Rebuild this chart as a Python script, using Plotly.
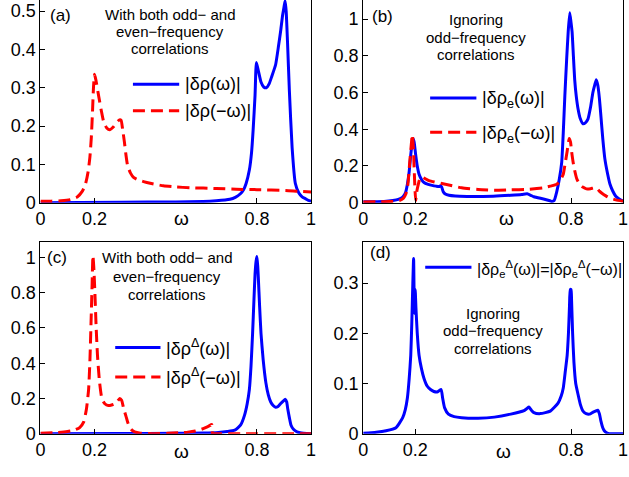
import plotly.graph_objects as go

# ---------------- data ----------------
tick_vals_x = [0, 0.2, 0.8, 1]
tick_text_x = ["0", "0.2", "0.8", "1"]

a_ticks = [0, 0.1, 0.2, 0.3, 0.4, 0.5]
a_ticktext = ["0", "0.1", "0.2", "0.3", "0.4", "0.5"]
b_ticks = [0, 0.2, 0.4, 0.6, 0.8, 1.0]
b_ticktext = ["0", "0.2", "0.4", "0.6", "0.8", "1"]
d_ticks = [0, 0.1, 0.2, 0.3]
d_ticktext = ["0", "0.1", "0.2", "0.3"]

# panel (a)
a_blue_x = [0, 0.3, 0.5, 0.6, 0.65, 0.7, 0.72, 0.74, 0.75, 0.76, 0.772, 0.78, 0.786, 0.793, 0.798, 0.805,
            0.815, 0.825, 0.835, 0.845, 0.855, 0.869, 0.88, 0.888, 0.895, 0.9, 0.904, 0.908, 0.913, 0.92,
            0.93, 0.942, 0.955, 0.967, 0.98, 0.99, 1.0]
a_blue_y = [0, 0.001, 0.002, 0.003, 0.005, 0.009, 0.014, 0.024, 0.033, 0.05, 0.085, 0.13, 0.19, 0.28, 0.366, 0.345,
            0.315, 0.302, 0.30, 0.31, 0.33, 0.36, 0.41, 0.45, 0.49, 0.51, 0.527, 0.5, 0.42, 0.29,
            0.144, 0.05, 0.025, 0.015, 0.01, 0.006, 0.004]
a_red_x = [0, 0.04, 0.076, 0.11, 0.136, 0.155, 0.167, 0.176, 0.183, 0.188, 0.192, 0.196, 0.2, 0.205,
           0.216, 0.225, 0.234, 0.245, 0.256, 0.27, 0.283, 0.292, 0.298, 0.304, 0.31, 0.316, 0.322, 0.333,
           0.344, 0.36, 0.381, 0.41, 0.454, 0.5, 0.552, 0.65, 0.723, 0.8, 0.906, 0.95, 1.0]
a_red_y = [0.004, 0.004, 0.005, 0.008, 0.015, 0.03, 0.05, 0.08, 0.12, 0.17, 0.23, 0.3, 0.335, 0.32,
           0.275, 0.24, 0.21, 0.195, 0.19, 0.198, 0.21, 0.216, 0.215, 0.19, 0.16, 0.125, 0.097, 0.077,
           0.066, 0.06, 0.055, 0.05, 0.044, 0.041, 0.039, 0.037, 0.035, 0.034, 0.032, 0.03, 0.028]

# panel (b)
b_blue_x = [0, 0.08, 0.114, 0.135, 0.152, 0.163, 0.17, 0.177, 0.183, 0.188, 0.192, 0.196, 0.202, 0.208,
            0.215, 0.225, 0.234, 0.25, 0.265, 0.28, 0.292, 0.297, 0.302, 0.308, 0.316, 0.33, 0.354, 0.4,
            0.442, 0.5, 0.568, 0.61, 0.631, 0.645, 0.657, 0.694, 0.715, 0.726, 0.735, 0.745, 0.755, 0.764,
            0.77, 0.776, 0.783, 0.789, 0.795, 0.8, 0.804, 0.809, 0.814, 0.82, 0.827, 0.835, 0.846, 0.855,
            0.865, 0.875, 0.884, 0.891, 0.897, 0.903, 0.909, 0.915, 0.922, 0.93, 0.941, 0.95, 0.96, 0.972,
            0.985, 1.0]
b_blue_y = [0.005, 0.007, 0.012, 0.018, 0.03, 0.055, 0.1, 0.17, 0.26, 0.32, 0.35, 0.33, 0.26, 0.2,
            0.155, 0.125, 0.11, 0.1, 0.094, 0.09, 0.088, 0.092, 0.085, 0.06, 0.047, 0.04, 0.036, 0.034,
            0.034, 0.035, 0.04, 0.044, 0.048, 0.04, 0.032, 0.02, 0.012, 0.007, 0.012, 0.06, 0.13, 0.22,
            0.38, 0.58, 0.78, 0.93, 1.035, 0.98, 0.93, 0.8, 0.67, 0.58, 0.51, 0.46, 0.43, 0.435,
            0.455, 0.52, 0.6, 0.64, 0.67, 0.64, 0.57, 0.47, 0.35, 0.24, 0.155, 0.1, 0.065, 0.035,
            0.02, 0.008]
b_red_x = [0, 0.1, 0.139, 0.155, 0.164, 0.172, 0.179, 0.184, 0.189, 0.193, 0.196, 0.199, 0.202, 0.206,
           0.212, 0.218, 0.225, 0.253, 0.316, 0.379, 0.442, 0.505, 0.568, 0.631, 0.694, 0.72, 0.745, 0.76,
           0.77, 0.778, 0.785, 0.793, 0.798, 0.802, 0.808, 0.814, 0.822, 0.833, 0.845, 0.859, 0.875, 0.891,
           0.9, 0.909, 0.92, 0.934, 0.95, 0.972, 1.0]
b_red_y = [0.004, 0.006, 0.012, 0.025, 0.047, 0.1, 0.22, 0.3, 0.37, 0.3, 0.19, 0.08, 0.012, 0.06,
           0.1, 0.13, 0.14, 0.12, 0.1, 0.081, 0.072, 0.068, 0.07, 0.072, 0.081, 0.09, 0.1, 0.125,
           0.155, 0.22, 0.28, 0.35, 0.33, 0.28, 0.22, 0.175, 0.13, 0.1, 0.085, 0.075, 0.076, 0.081,
           0.078, 0.063, 0.05, 0.037, 0.025, 0.015, 0.008]

# panel (c)
c_blue_x = [0, 0.3, 0.5, 0.6, 0.657, 0.69, 0.718, 0.74, 0.754, 0.764, 0.772, 0.778, 0.784, 0.789, 0.793,
            0.797, 0.8, 0.803, 0.805, 0.81, 0.815, 0.823, 0.833, 0.842, 0.851, 0.86, 0.869, 0.878, 0.887,
            0.897, 0.905, 0.91, 0.914, 0.92, 0.926, 0.935, 0.948, 0.965, 0.984, 1.0]
c_blue_y = [0, 0.001, 0.002, 0.004, 0.007, 0.012, 0.02, 0.05, 0.104, 0.17, 0.25, 0.38, 0.57, 0.76, 0.905,
            0.98, 1.005, 0.95, 0.89, 0.72, 0.57, 0.42, 0.29, 0.22, 0.18, 0.16, 0.15, 0.155, 0.17,
            0.185, 0.195, 0.18, 0.14, 0.09, 0.048, 0.025, 0.011, 0.004, 0.001, 0]
c_red_x = [0, 0.063, 0.1, 0.124, 0.145, 0.16, 0.17, 0.178, 0.183, 0.187, 0.191, 0.194, 0.197, 0.201,
           0.206, 0.211, 0.218, 0.227, 0.238, 0.251, 0.263, 0.275, 0.285, 0.293, 0.3, 0.308, 0.316, 0.324,
           0.335, 0.348, 0.37, 0.415, 0.47, 0.511, 0.545, 0.572, 0.595, 0.608, 0.622, 0.633, 0.636, 0.645,
           0.75, 0.9, 1.0]
c_red_y = [0.002, 0.007, 0.013, 0.02, 0.035, 0.067, 0.14, 0.25, 0.42, 0.63, 0.85, 1.01, 0.95, 0.81,
           0.6, 0.44, 0.3, 0.2, 0.17, 0.16, 0.163, 0.17, 0.185, 0.2, 0.19, 0.14, 0.1, 0.058,
           0.025, 0.01, 0.003, 0.0, 0.002, 0.005, 0.009, 0.015, 0.025, 0.033, 0.043, 0.052, 0.0, 0.0,
           0.0, 0.0, 0.0]

# panel (d)
d_blue_x = [0, 0.05, 0.088, 0.126, 0.152, 0.162, 0.17, 0.177, 0.183, 0.187, 0.191, 0.194, 0.197, 0.2,
            0.203, 0.208, 0.215, 0.224, 0.234, 0.246, 0.259, 0.272, 0.284, 0.293, 0.3, 0.306, 0.313, 0.328,
            0.35, 0.379, 0.442, 0.505, 0.568, 0.619, 0.63, 0.638, 0.647, 0.657, 0.682, 0.72, 0.75, 0.762,
            0.77, 0.778, 0.785, 0.79, 0.794, 0.797, 0.8, 0.802, 0.806, 0.811, 0.818, 0.827, 0.836, 0.846,
            0.858, 0.871, 0.885, 0.894, 0.903, 0.909, 0.915, 0.922, 0.928, 0.937, 0.947, 1.0]
d_blue_y = [0.001, 0.003, 0.006, 0.012, 0.032, 0.048, 0.071, 0.11, 0.156, 0.22, 0.3, 0.349, 0.24, 0.287,
            0.25, 0.2, 0.156, 0.13, 0.11, 0.095, 0.088, 0.084, 0.083, 0.086, 0.088, 0.07, 0.052, 0.039,
            0.034, 0.032, 0.031, 0.033, 0.039, 0.046, 0.05, 0.053, 0.047, 0.042, 0.04, 0.045, 0.061, 0.075,
            0.091, 0.125, 0.156, 0.2, 0.254, 0.287, 0.287, 0.265, 0.2, 0.143, 0.1, 0.078, 0.058, 0.045,
            0.04, 0.039, 0.043, 0.045, 0.047, 0.04, 0.025, 0.012, 0.006, 0.002, 0, 0]

for xs, ys in [(a_blue_x, a_blue_y), (a_red_x, a_red_y), (b_blue_x, b_blue_y), (b_red_x, b_red_y),
               (c_blue_x, c_blue_y), (c_red_x, c_red_y), (d_blue_x, d_blue_y)]:
    assert len(xs) == len(ys), (len(xs), len(ys))

# ---------------- figure ----------------
W, H = 629, 477
BLUE = "#0000FF"
RED = "#FF0000"
FONT = "Liberation Sans, Arial, Helvetica, sans-serif"
DASH = "12px,6px"


def px(x):
    return x / W


def py(y):
    return 1 - y / H


fig = go.Figure()

panels = [
    ("x", "y", [(a_blue_x, a_blue_y, BLUE, "solid"), (a_red_x, a_red_y, RED, DASH)]),
    ("x2", "y2", [(b_blue_x, b_blue_y, BLUE, "solid"), (b_red_x, b_red_y, RED, DASH)]),
    ("x3", "y3", [(c_blue_x, c_blue_y, BLUE, "solid"), (c_red_x, c_red_y, RED, DASH)]),
    ("x4", "y4", [(d_blue_x, d_blue_y, BLUE, "solid")]),
]
for xa, ya, series in panels:
    for xs, ys, col, dash in series:
        fig.add_trace(go.Scatter(x=xs, y=ys, mode="lines", xaxis=xa, yaxis=ya,
                                 line=dict(color=col, width=3, dash=dash, shape="spline", smoothing=0.5),
                                 showlegend=False, hoverinfo="skip"))

colL = [px(36), px(311)]
colR = [px(364), px(628)]
rowT = [py(207), 1.0]
rowB = [py(443), py(247)]

axis_common = dict(showline=True, linecolor="black", linewidth=1, ticks="inside", ticklen=5,
                   tickcolor="black", showgrid=False, zeroline=False,
                   tickfont=dict(family=FONT, size=18, color="black"))


def xax(domain, anchor, mirror):
    return dict(domain=domain, anchor=anchor, range=[0, 1], tickvals=tick_vals_x,
                ticktext=tick_text_x, mirror=mirror, **axis_common)


def yax(domain, anchor, rng, tv, tt):
    return dict(domain=domain, anchor=anchor, range=rng, tickvals=tv, ticktext=tt,
                mirror=True, **axis_common)


fig.update_layout(
    width=W, height=H, margin=dict(l=0, r=0, t=0, b=0),
    paper_bgcolor="white", plot_bgcolor="white",
    xaxis=xax(colL, "y", False),
    yaxis=yax(rowT, "x", [0, 0.529], a_ticks, a_ticktext),
    xaxis2=xax(colR, "y2", False),
    yaxis2=yax(rowT, "x2", [0, 1.104], b_ticks, b_ticktext),
    xaxis3=xax(colL, "y3", True),
    yaxis3=yax(rowB, "x3", [0, 1.089], b_ticks, b_ticktext),
    xaxis4=xax(colR, "y4", True),
    yaxis4=yax(rowB, "x4", [0, 0.382], d_ticks, d_ticktext),
)

annotations = []
shapes = []


def text(x, y, s, size=15, anchor="center"):
    annotations.append(dict(x=px(x), y=py(y), xref="paper", yref="paper", text=s, showarrow=False,
                            xanchor=anchor, yanchor="middle",
                            font=dict(family=FONT, size=size, color="black")))


def legend_line(x0, x1, y, col, dash):
    shapes.append(dict(type="line", xref="paper", yref="paper", x0=px(x0), x1=px(x1), y0=py(y), y1=py(y),
                       line=dict(color=col, width=3, dash=dash)))


# panel labels
text(56, 16, "(a)", 17)
text(384, 17, "(b)", 17)
text(53, 263, "(c)", 17)
text(382, 258, "(d)", 17)

# descriptive texts
for i, s in enumerate(["With both odd\u2212 and", "even\u2212frequency", "correlations"]):
    text(168, 15 + 17.5 * i, s, 15)
for i, s in enumerate(["Ignoring", "odd\u2212frequency", "correlations"]):
    text(479, 20 + 18 * i, s, 15)
for i, s in enumerate(["With both odd\u2212 and", "even\u2212frequency", "correlations"]):
    text(165, 263 + 19 * i, s, 15)
for i, s in enumerate(["Ignoring", "odd\u2212frequency", "correlations"]):
    text(496, 320 + 18 * i, s, 15)

# omega x labels
text(36 + 0.52 * 275, 223, "\u03c9", 19)
text(364 + 0.55 * 264, 223, "\u03c9", 19)
text(36 + 0.52 * 275, 461, "\u03c9", 19)
text(364 + 0.54 * 264, 461, "\u03c9", 19)

# legends
legend_line(130, 177, 86, BLUE, "solid")
text(181, 86, "|\u03b4\u03c1(\u03c9)|", 18, "left")
legend_line(130, 177, 113, RED, DASH)
text(181, 113, "|\u03b4\u03c1(\u2212\u03c9)|", 18, "left")

legend_line(432, 479, 100, BLUE, "solid")
text(483, 102, "|\u03b4\u03c1<sub>e</sub>(\u03c9)|", 18, "left")
legend_line(432, 479, 135, RED, DASH)
text(483, 137, "|\u03b4\u03c1<sub>e</sub>(\u2212\u03c9)|", 18, "left")

legend_line(112, 158, 355, BLUE, "solid")
text(162, 355, "|\u03b4\u03c1<sup>\u0394</sup>(\u03c9)|", 18, "left")
legend_line(112, 158, 385, RED, DASH)
text(162, 385, "|\u03b4\u03c1<sup>\u0394</sup>(\u2212\u03c9)|", 18, "left")

legend_line(427, 474, 273, BLUE, "solid")
text(478, 275, "|\u03b4\u03c1<sub>e</sub><sup>\u0394</sup>(\u03c9)|=|\u03b4\u03c1<sub>e</sub><sup>\u0394</sup>(\u2212\u03c9)|",
     16, "left")

fig.update_layout(annotations=annotations, shapes=shapes)
fig.write_html("out.html")
